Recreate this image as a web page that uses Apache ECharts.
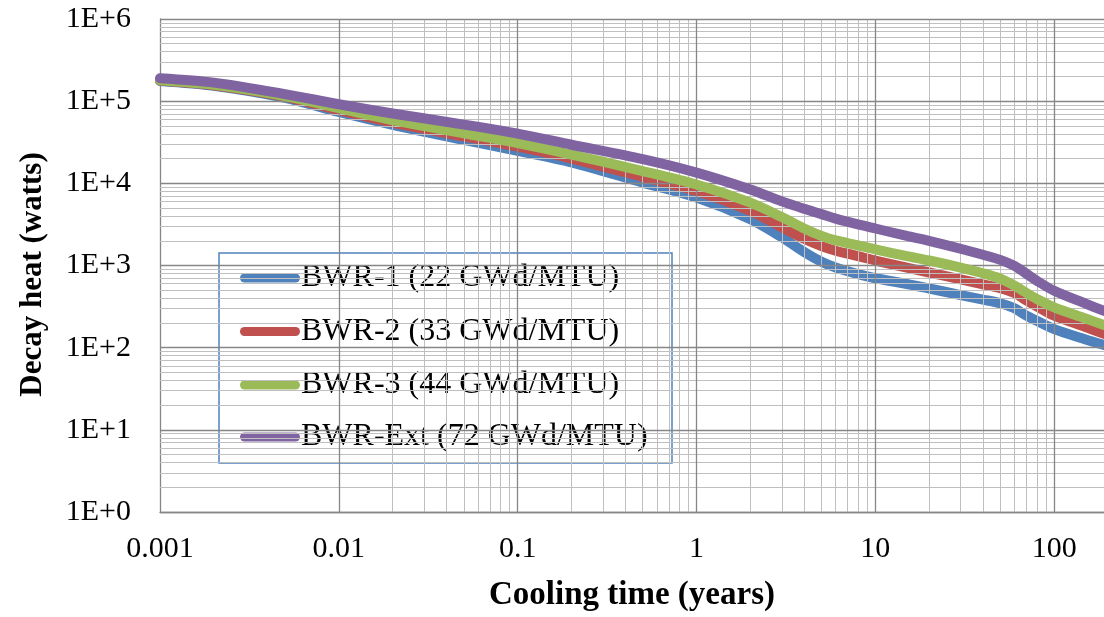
<!DOCTYPE html>
<html><head><meta charset="utf-8">
<script src="https://cdn.jsdelivr.net/npm/echarts@6/dist/echarts.min.js"></script>
<style>html,body{margin:0;padding:0;background:#fff}#c{width:1104px;height:617px}</style>
</head><body><div id="c"></div>
<script>
// Cooling time (years)
const times = [0.001, 0.002, 0.005, 0.01, 0.02, 0.05, 0.1, 0.2, 0.5, 1, 2, 3, 4, 5, 6, 8, 10, 15, 20, 30, 40, 50, 60, 70, 80, 100, 150, 190];
// Decay heat (watts)
const bwr1   = [176000, 154000, 110000, 73800, 51500, 33700, 24800, 18000, 10200, 6700, 3670, 2210, 1460, 1110, 944, 785, 700, 596, 525, 437, 385, 347, 301, 245, 212, 168, 126, 108];
const bwr2   = [178000, 156000, 113000, 77600, 55000, 37200, 27900, 20000, 12000, 8050, 4620, 2920, 2110, 1720, 1510, 1300, 1150, 944, 822, 676, 589, 531, 462, 376, 318, 245, 178, 147];
const bwr3   = [180000, 158000, 115000, 82200, 58900, 40700, 30900, 22400, 14100, 9660, 5820, 3890, 2820, 2290, 2020, 1760, 1570, 1300, 1150, 944, 804, 692, 569, 462, 391, 309, 226, 188];
const bwrExt = [190000, 168000, 122000, 91800, 70800, 51900, 40300, 29500, 19700, 13500, 8410, 6030, 4900, 4220, 3720, 3160, 2820, 2290, 2000, 1600, 1350, 1170, 989, 794, 653, 492, 343, 280];

const seriesNames = ['BWR-1 (22 GWd/MTU)', 'BWR-2 (33 GWd/MTU)', 'BWR-3 (44 GWd/MTU)', 'BWR-Ext (72 GWd/MTU)'];
const seriesValues = [bwr1, bwr2, bwr3, bwrExt];
const seriesColors = ['#4F81BD', '#C0504D', '#9BBB59', '#8064A2'];

const xTickValues = [0.001, 0.01, 0.1, 1, 10, 100];
const xTickLabels = ['0.001', '0.01', '0.1', '1', '10', '100'];
const yTickValues = [1, 10, 100, 1000, 10000, 100000, 1000000];
const yTickLabels = ['1E+0', '1E+1', '1E+2', '1E+3', '1E+4', '1E+5', '1E+6'];
const xMin = 0.001, xMax = 190, yMin = 1, yMax = 1000000;

function tickFormatter(values, labels) {
  return function (v) {
    for (let i = 0; i < values.length; i++) {
      if (Math.abs(v / values[i] - 1) < 1e-6) return labels[i];
    }
    return '';
  };
}

// grid lines (major at decades, minor at 2..9 x decade)
function gridValues(minV, maxV) {
  const major = [], minor = [];
  for (let e = Math.round(Math.log10(minV)); Math.pow(10, e) <= maxV * 1.0000001; e++) {
    const d = Math.pow(10, e);
    major.push(d);
    for (let k = 2; k <= 9; k++) { if (k * d <= maxV) minor.push(k * d); }
  }
  return { major, minor };
}
const gx = gridValues(xMin, xMax), gy = gridValues(yMin, yMax);
const minorStyle = { color: '#BFBFBF', width: 1, type: 'solid' };
const majorStyle = { color: '#868686', width: 1.3, type: 'solid' };
const gridLines = [];
gx.minor.forEach(v => gridLines.push({ xAxis: v, lineStyle: minorStyle }));
gy.minor.forEach(v => gridLines.push({ yAxis: v, lineStyle: minorStyle }));
gx.major.forEach(v => gridLines.push({ xAxis: v, lineStyle: majorStyle }));
gy.major.forEach(v => gridLines.push({ yAxis: v, lineStyle: majorStyle }));

const font = 'Liberation Serif';
const chart = echarts.init(document.getElementById('c'), null, { renderer: 'canvas' });

const series = [{
  name: 'grid', type: 'line', data: [], z: 1, silent: true,
  markLine: { silent: true, symbol: ['none', 'none'], animation: false, label: { show: false },
    emphasis: { disabled: true }, data: gridLines }
}];
seriesValues.forEach((vals, i) => {
  series.push({
    name: seriesNames[i], type: 'line', z: 3 + i,
    data: times.map((t, j) => [t, vals[j]]),
    showSymbol: false, symbol: 'none', smooth: 0.3,
    lineStyle: { color: seriesColors[i], width: 10, cap: 'round', join: 'round' },
    itemStyle: { color: seriesColors[i] },
    emphasis: { disabled: true }
  });
});

// legend box drawn as graphic elements
const legendLeft = 219, legendTop = 253, legendWidth = 453, legendHeight = 210;
const legendRowY = [278, 331.5, 385, 437];
const legendChildren = [{
  type: 'rect', shape: { x: legendLeft, y: legendTop, width: legendWidth, height: legendHeight },
  style: { fill: '#fff', stroke: '#4F81BD', lineWidth: 1.5 }
}];
seriesNames.forEach((name, i) => {
  legendChildren.push({
    type: 'line', shape: { x1: 244.5, y1: legendRowY[i], x2: 295.5, y2: legendRowY[i] },
    style: { stroke: seriesColors[i], lineWidth: 9, lineCap: 'round' }
  });
  legendChildren.push({
    type: 'text', x: 301, y: legendRowY[i],
    style: { text: name, fill: '#000', fontSize: 32, fontFamily: font, fontWeight: 'normal',
      lineWidth: 0, verticalAlign: 'middle', align: 'left' }
  });
});

chart.setOption({
  animation: false,
  backgroundColor: '#fff',
  grid: { left: 160, right: 0, top: 19, bottom: 104, containLabel: false },
  xAxis: {
    type: 'log', logBase: 10, min: xMin, max: xMax,
    name: 'Cooling time (years)', nameLocation: 'middle', nameGap: 67,
    nameTextStyle: { fontFamily: font, fontWeight: 'bold', fontSize: 33, color: '#000' },
    axisLine: { show: true, lineStyle: { color: '#868686', width: 1.3 } },
    axisTick: { show: false },
    splitLine: { show: false }, minorSplitLine: { show: false },
    axisLabel: { fontFamily: font, fontSize: 30, color: '#000', margin: 22,
      showMaxLabel: false, formatter: tickFormatter(xTickValues, xTickLabels) }
  },
  yAxis: {
    type: 'log', logBase: 10, min: yMin, max: yMax,
    name: 'Decay heat (watts)', nameLocation: 'middle', nameGap: 112, nameRotate: 90,
    nameTextStyle: { fontFamily: font, fontWeight: 'bold', fontSize: 31, color: '#000', padding: [0, 18, 0, 0] },
    axisLine: { show: true, lineStyle: { color: '#868686', width: 1.3 } },
    axisTick: { show: false },
    splitLine: { show: false }, minorSplitLine: { show: false },
    axisLabel: { fontFamily: font, fontSize: 30, color: '#000', margin: 29,
      formatter: tickFormatter(yTickValues, yTickLabels) }
  },
  graphic: [{ type: 'group', z: 100, silent: true, children: legendChildren }],
  series: series
});
</script></body></html>
